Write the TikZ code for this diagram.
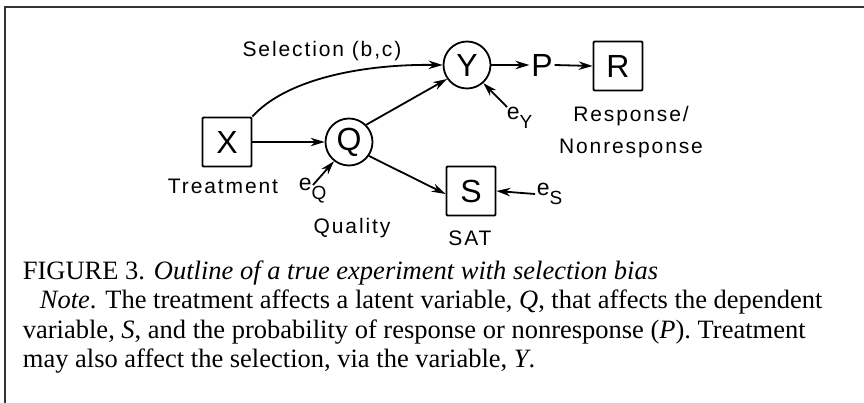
\documentclass[tikz,border=0pt]{standalone}
\usepackage{fontspec}
\setmainfont{Liberation Serif}
\setsansfont{Liberation Sans}
\newfontfamily\diagfont[LetterSpace=9]{Liberation Sans}
\usetikzlibrary{arrows.meta}
\begin{document}
\begin{tikzpicture}[x=1pt,y=-1pt,
  line width=1.8pt,
  arr/.style={-{Stealth[length=14pt,width=8.5pt,inset=4.5pt]}},
  boxnode/.style={draw,rectangle,rounded corners=1pt,minimum width=49pt,minimum height=49pt,inner sep=0pt,font=\sffamily\fontsize{32}{32}\selectfont},
  circnode/.style={draw,circle,minimum size=47pt,inner sep=0pt,font=\sffamily\fontsize{32}{32}\selectfont},
  lbl/.style={font=\diagfont\fontsize{21}{22}\selectfont,inner sep=1pt},
  errlbl/.style={font=\sffamily\fontsize{23}{23}\selectfont,inner sep=1pt},
  captext/.style={anchor=base west,inner sep=0pt,font=\fontsize{26.5}{30}\selectfont}
]
\useasboundingbox (0,0) rectangle (864,403);
% frame
\draw[line width=1.3pt,black!80] (4,7) -- (864,7);
\draw[line width=1.3pt,black!80] (5,7) -- (5,403);

% nodes
\node[boxnode] (X) at (227,142) {X};
\node[circnode] (Q) at (349,142) {Q};
\node[circnode] (Y) at (467,65) {Y};
\node[font=\sffamily\fontsize{32}{32}\selectfont,inner sep=1pt] (P) at (542,65) {P};
\node[boxnode] (R) at (618,66) {R};
\node[boxnode] (S) at (471,191) {S};

% labels
\node[lbl] (sel) at (322,51) {Selection (b,c)};
\node[lbl] (treat) at (223,186) {Treatment};
\node[lbl] (qual) at (352,228) {Quality};
\node[lbl] (sat) at (470,238) {SAT};
\node[lbl] (resp) at (631,116) {Response/};
\node[lbl] (nonresp) at (631,148) {Nonresponse};
\node[errlbl,anchor=west] (eQ) at (297,191) {e\raisebox{-9pt}{\fontsize{19}{19}\selectfont Q}};
\node[errlbl,anchor=west] (eY) at (505,118) {e\raisebox{-9pt}{\fontsize{19}{19}\selectfont Y}};
\node[errlbl,anchor=west] (eS) at (535,194) {e\raisebox{-9pt}{\fontsize{19}{19}\selectfont S}};

\coordinate (eQt) at (313,185);
\coordinate (eYt) at (507,107);

% connectors
\draw[arr] (X.east) -- (Q.west);
\draw[arr] (X.north east) .. controls (285,80) and (360,64) .. (Y.west);
\draw[arr] (Q.north east) -- (Y.-145);
\draw[arr] (Q.-35) -- ([yshift=-3pt]S.west);
\draw[arr] (Y.east) -- (P.west);
\draw[arr] (P.east) -- (R.west);
\draw[arr] (eYt) -- (Y.-48);
\draw[arr] (eQt) -- (Q.-128);
\draw[arr] (eS.west) -- (S.east);

% caption
\node[captext] (c1) at (22,279) {FIGURE 3. \textit{Outline of a true experiment with selection bias}};
\node[captext] (c2) at (39,308) {\textit{Note}. The treatment affects a latent variable, \textit{Q}, that affects the dependent};
\node[captext] (c3) at (22,338) {variable, \textit{S}, and the probability of response or nonresponse (\textit{P}). Treatment};
\node[captext] (c4) at (22,367) {may also affect the selection, via the variable, \textit{Y}.};
\end{tikzpicture}
\end{document}
